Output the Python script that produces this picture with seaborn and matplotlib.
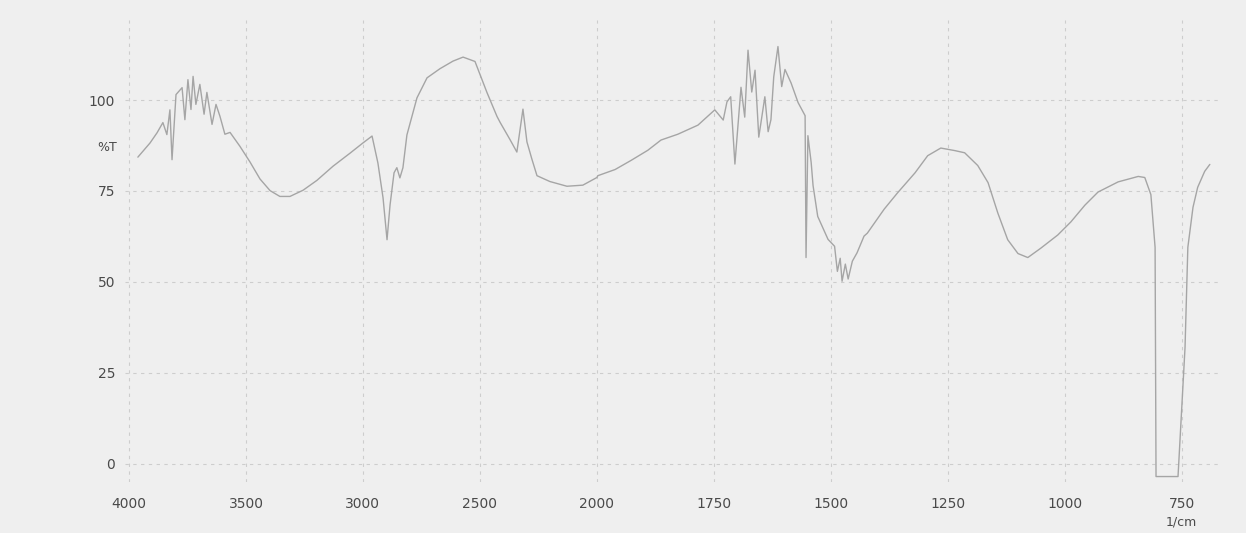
import matplotlib
matplotlib.use("Agg")
import matplotlib.pyplot as plt
import numpy as np
import pandas as pd
import seaborn as sns

# IR spectrum (wavenumber in 1/cm, transmittance in %T)
wavenumber = [
    3962, 3910, 3880, 3855, 3838, 3825, 3816, 3799, 3773, 3761, 3748, 3735, 3726, 3714,
    3697, 3679, 3667, 3645, 3628, 3611, 3590, 3568, 3526, 3483, 3440, 3397,
    3355, 3312, 3256, 3197, 3128, 3055, 3000, 2961, 2936, 2914, 2897, 2884,
    2867, 2855, 2842, 2829, 2812, 2769, 2726, 2671, 2615, 2572, 2521, 2470,
    2427, 2414, 2372, 2342, 2316, 2299, 2278, 2256, 2201, 2128, 2060, 2000,
    1998, 1961, 1927, 1891, 1863, 1827, 1784, 1748, 1730, 1722, 1714, 1705,
    1692, 1684, 1677, 1669, 1662, 1654, 1641, 1634, 1628, 1622, 1613, 1605,
    1598, 1585, 1570, 1555, 1553, 1549, 1542, 1538, 1528, 1506, 1492, 1486,
    1480, 1476, 1469, 1463, 1454, 1444, 1429, 1422, 1386, 1358, 1320, 1293,
    1265, 1235, 1214, 1186, 1164, 1143, 1122, 1100, 1079, 1051, 1015, 987,
    957, 929, 886, 843, 829, 816, 807, 805, 758, 743, 737, 726, 716, 701, 690,
]
transmittance = [
    84.3, 88.2, 91.0, 93.8, 90.5, 97.3, 83.6, 101.5, 103.4, 94.6, 105.6, 97.4, 106.5, 98.8,
    104.3, 96.1, 102.1, 93.3, 98.8, 95.5, 90.6, 91.1, 87.3, 83.0, 78.3, 75.1,
    73.5, 73.5, 75.2, 77.9, 81.8, 85.4, 88.2, 90.1, 82.7, 73.1, 61.6, 71.2,
    80.0, 81.4, 78.6, 81.4, 90.4, 100.6, 106.1, 108.6, 110.7, 111.8, 110.6, 102.1,
    95.5, 93.9, 89.2, 85.7, 97.5, 88.5, 83.8, 79.2, 77.6, 76.3, 76.6, 78.7,
    79.2, 80.9, 83.4, 86.2, 89.0, 90.6, 93.1, 97.3, 94.5, 99.5, 100.9, 82.4,
    103.5, 95.3, 113.7, 102.2, 108.2, 89.8, 100.9, 91.3, 94.6, 106.4, 114.7, 103.7,
    108.4, 104.7, 99.3, 95.7, 56.7, 90.2, 82.8, 76.5, 68.0, 61.7, 59.8, 52.9,
    56.5, 50.2, 54.9, 50.8, 55.7, 58.0, 62.6, 63.4, 70.0, 74.4, 80.0, 84.7,
    86.8, 86.1, 85.5, 82.0, 77.3, 68.9, 61.6, 57.8, 56.7, 59.3, 62.9, 66.5,
    71.1, 74.7, 77.5, 79.0, 78.7, 74.0, 59.5, -3.5, -3.5, 32.0, 59.5, 70.5, 76.0, 80.4, 82.3,
]

x_ticks = [4000, 3500, 3000, 2500, 2000, 1750, 1500, 1250, 1000, 750]
y_ticks = [0, 25, 50, 75, 100]

df = pd.DataFrame({"wavenumber": wavenumber, "T": transmittance})


# chart paper: half scale above 2000 1/cm, double scale below
def fwd(w):
    w = np.asarray(w, dtype=float)
    return np.where(w >= 2000, (w - 2000) / 2000, (w - 2000) / 1000)


def inv(u):
    u = np.asarray(u, dtype=float)
    return np.where(u >= 0, 2000 + 2000 * u, 2000 + 1000 * u)


sns.set_style("white")
bg = "#efefef"
fig = plt.figure(figsize=(12.46, 5.33), dpi=100, facecolor=bg)
ax = fig.add_axes([125 / 1246, 1 - 482 / 533, (1222 - 125) / 1246, (482 - 20) / 533])
ax.set_facecolor(bg)

sns.lineplot(data=df, x="wavenumber", y="T", sort=False, estimator=None,
             color="#a5a5a5", linewidth=1.0, ax=ax)

ax.set_xscale("function", functions=(fwd, inv))
ax.set_xlim(4017, 664)
ax.set_ylim(-5, 122)
ax.set_xticks(x_ticks)
ax.set_xticklabels([str(t) for t in x_ticks])
ax.set_yticks(y_ticks)
ax.set_yticklabels([str(t) for t in y_ticks])
ax.set_xlabel("")
ax.set_ylabel("")

ax.grid(True, color="#cdcdcd", linestyle=(0, (3, 4)), linewidth=0.8)
for s in ax.spines.values():
    s.set_visible(False)
ax.tick_params(axis="x", length=0, pad=11, labelsize=10, labelcolor="#4a4a4a")
ax.tick_params(axis="y", length=0, pad=7, labelsize=10, labelcolor="#4a4a4a")

ax.text(-8 / 1097, 87, "%T", transform=ax.get_yaxis_transform(), ha="right",
        va="center", fontsize=9, color="#4a4a4a")
ax.text(750, -16, "1/cm", ha="center", va="center", fontsize=9, color="#4a4a4a",
        clip_on=False)

fig.savefig("out.png", dpi=100, facecolor=bg)
